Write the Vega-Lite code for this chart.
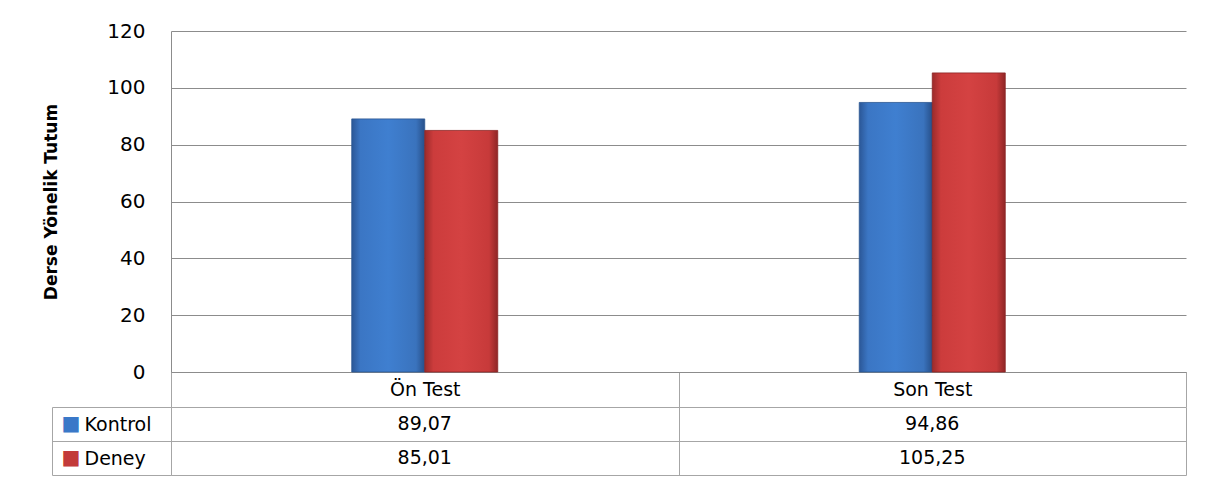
{
  "$schema": "https://vega.github.io/schema/vega-lite/v6.json",
  "background": "white",
  "padding": {"left": 42, "top": 21, "right": 20, "bottom": 15},
  "spacing": 35,
  "bounds": "flush",
  "config": {
    "font": "DejaVu Sans",
    "locale": {"number": {"decimal": ",", "thousands": ".", "grouping": [3], "currency": ["", ""]}},
    "view": {"stroke": null},
    "axis": {"labelFont": "DejaVu Sans", "labelColor": "#000000", "titleColor": "#000000"}
  },
  "datasets": {
    "d": [
      {"test": "Ön Test", "group": "Kontrol", "value": 89.07},
      {"test": "Ön Test", "group": "Deney", "value": 85.01},
      {"test": "Son Test", "group": "Kontrol", "value": 94.86},
      {"test": "Son Test", "group": "Deney", "value": 105.25}
    ]
  },
  "vconcat": [
    {
      "width": 1015,
      "height": 341,
      "data": {"name": "d"},
      "encoding": {
        "x": {
          "field": "test", "type": "nominal", "sort": ["Ön Test", "Son Test"],
          "scale": {"paddingInner": 0, "paddingOuter": 0},
          "axis": {
            "title": null, "labelAngle": 0, "tickBand": "extent", "ticks": true, "tickSize": 35,
            "tickColor": "#a6a6a6", "domain": true, "domainColor": "#8c8c8c", "grid": false,
            "labelPadding": -18, "labelBaseline": "middle", "labelFontSize": 19
          }
        },
        "xOffset": {
          "field": "group", "type": "nominal",
          "scale": {"domain": ["p1", "p2", "Kontrol", "Deney", "p3", "p4"], "paddingInner": 0, "paddingOuter": 0.476}
        },
        "y": {
          "field": "value", "type": "quantitative",
          "scale": {"domain": [0, 120]},
          "axis": {
            "title": "Derse Yönelik Tutum", "titleFont": "DejaVu Sans", "titleFontWeight": "bold",
            "titleFontSize": 17, "titlePadding": 46,
            "values": [0, 20, 40, 60, 80, 100, 120], "grid": true, "gridColor": "#8c8c8c",
            "ticks": false, "domain": true, "domainColor": "#8c8c8c",
            "labelPadding": 26, "labelFontSize": 20
          }
        }
      },
      "layer": [
        {
          "transform": [{"filter": "datum.group == 'Kontrol'"}],
          "mark": {
            "type": "bar", "stroke": "#2a5690", "strokeWidth": 0.8,
            "fill": {"gradient": "linear", "x1": 0, "x2": 1, "y1": 0, "y2": 0,
              "stops": [
                {"offset": 0, "color": "#2b5797"},
                {"offset": 0.12, "color": "#3b76c4"},
                {"offset": 0.5, "color": "#3f7fd0"},
                {"offset": 0.88, "color": "#3a73bd"},
                {"offset": 1, "color": "#27508a"}
              ]}
          }
        },
        {
          "transform": [{"filter": "datum.group == 'Deney'"}],
          "mark": {
            "type": "bar", "stroke": "#8c2424", "strokeWidth": 0.8,
            "fill": {"gradient": "linear", "x1": 0, "x2": 1, "y1": 0, "y2": 0,
              "stops": [
                {"offset": 0, "color": "#9c2b2b"},
                {"offset": 0.12, "color": "#cc3c3c"},
                {"offset": 0.5, "color": "#d44242"},
                {"offset": 0.88, "color": "#c73a3a"},
                {"offset": 1, "color": "#8f2626"}
              ]}
          }
        }
      ]
    },
    {
      "width": 1015,
      "height": 68,
      "data": {"name": "d"},
      "layer": [
        {
          "mark": {"type": "text", "fontSize": 19, "color": "#000000", "font": "DejaVu Sans"},
          "encoding": {
            "x": {
              "field": "test", "type": "nominal", "sort": ["Ön Test", "Son Test"],
              "scale": {"paddingInner": 0, "paddingOuter": 0},
              "axis": {"title": null, "labels": false, "ticks": false, "domain": false, "grid": true,
                "tickBand": "extent", "gridColor": "#a6a6a6"}
            },
            "y": {
              "field": "group", "type": "nominal", "sort": ["Kontrol", "Deney"],
              "scale": {"paddingInner": 0, "paddingOuter": 0},
              "axis": {"title": null, "orient": "left", "grid": true, "gridColor": "#a6a6a6",
                "tickBand": "extent", "ticks": true, "tickSize": 119, "tickColor": "#a6a6a6",
                "domain": true, "domainColor": "#a6a6a6",
                "labelAlign": "left", "labelPadding": -32, "labelFontSize": 19}
            },
            "text": {"field": "value", "type": "quantitative", "format": ".2f"}
          }
        },
        {
          "mark": {"type": "text", "opacity": 0},
          "encoding": {
            "y": {
              "field": "group", "type": "nominal", "sort": ["Kontrol", "Deney"],
              "axis": {"title": null, "orient": "left", "offset": 119, "ticks": false, "grid": false,
                "domain": true, "domainColor": "#a6a6a6",
                "labelExpr": "'■'", "labelAlign": "left", "labelPadding": -9, "labelFontSize": 20,
                "labelColor": {"condition": {"test": "datum.value == 'Kontrol'", "value": "#3a78c8"}, "value": "#c23a3a"}}
            },
            "text": {"value": ""}
          }
        }
      ],
      "resolve": {"axis": {"y": "independent"}}
    }
  ]
}
